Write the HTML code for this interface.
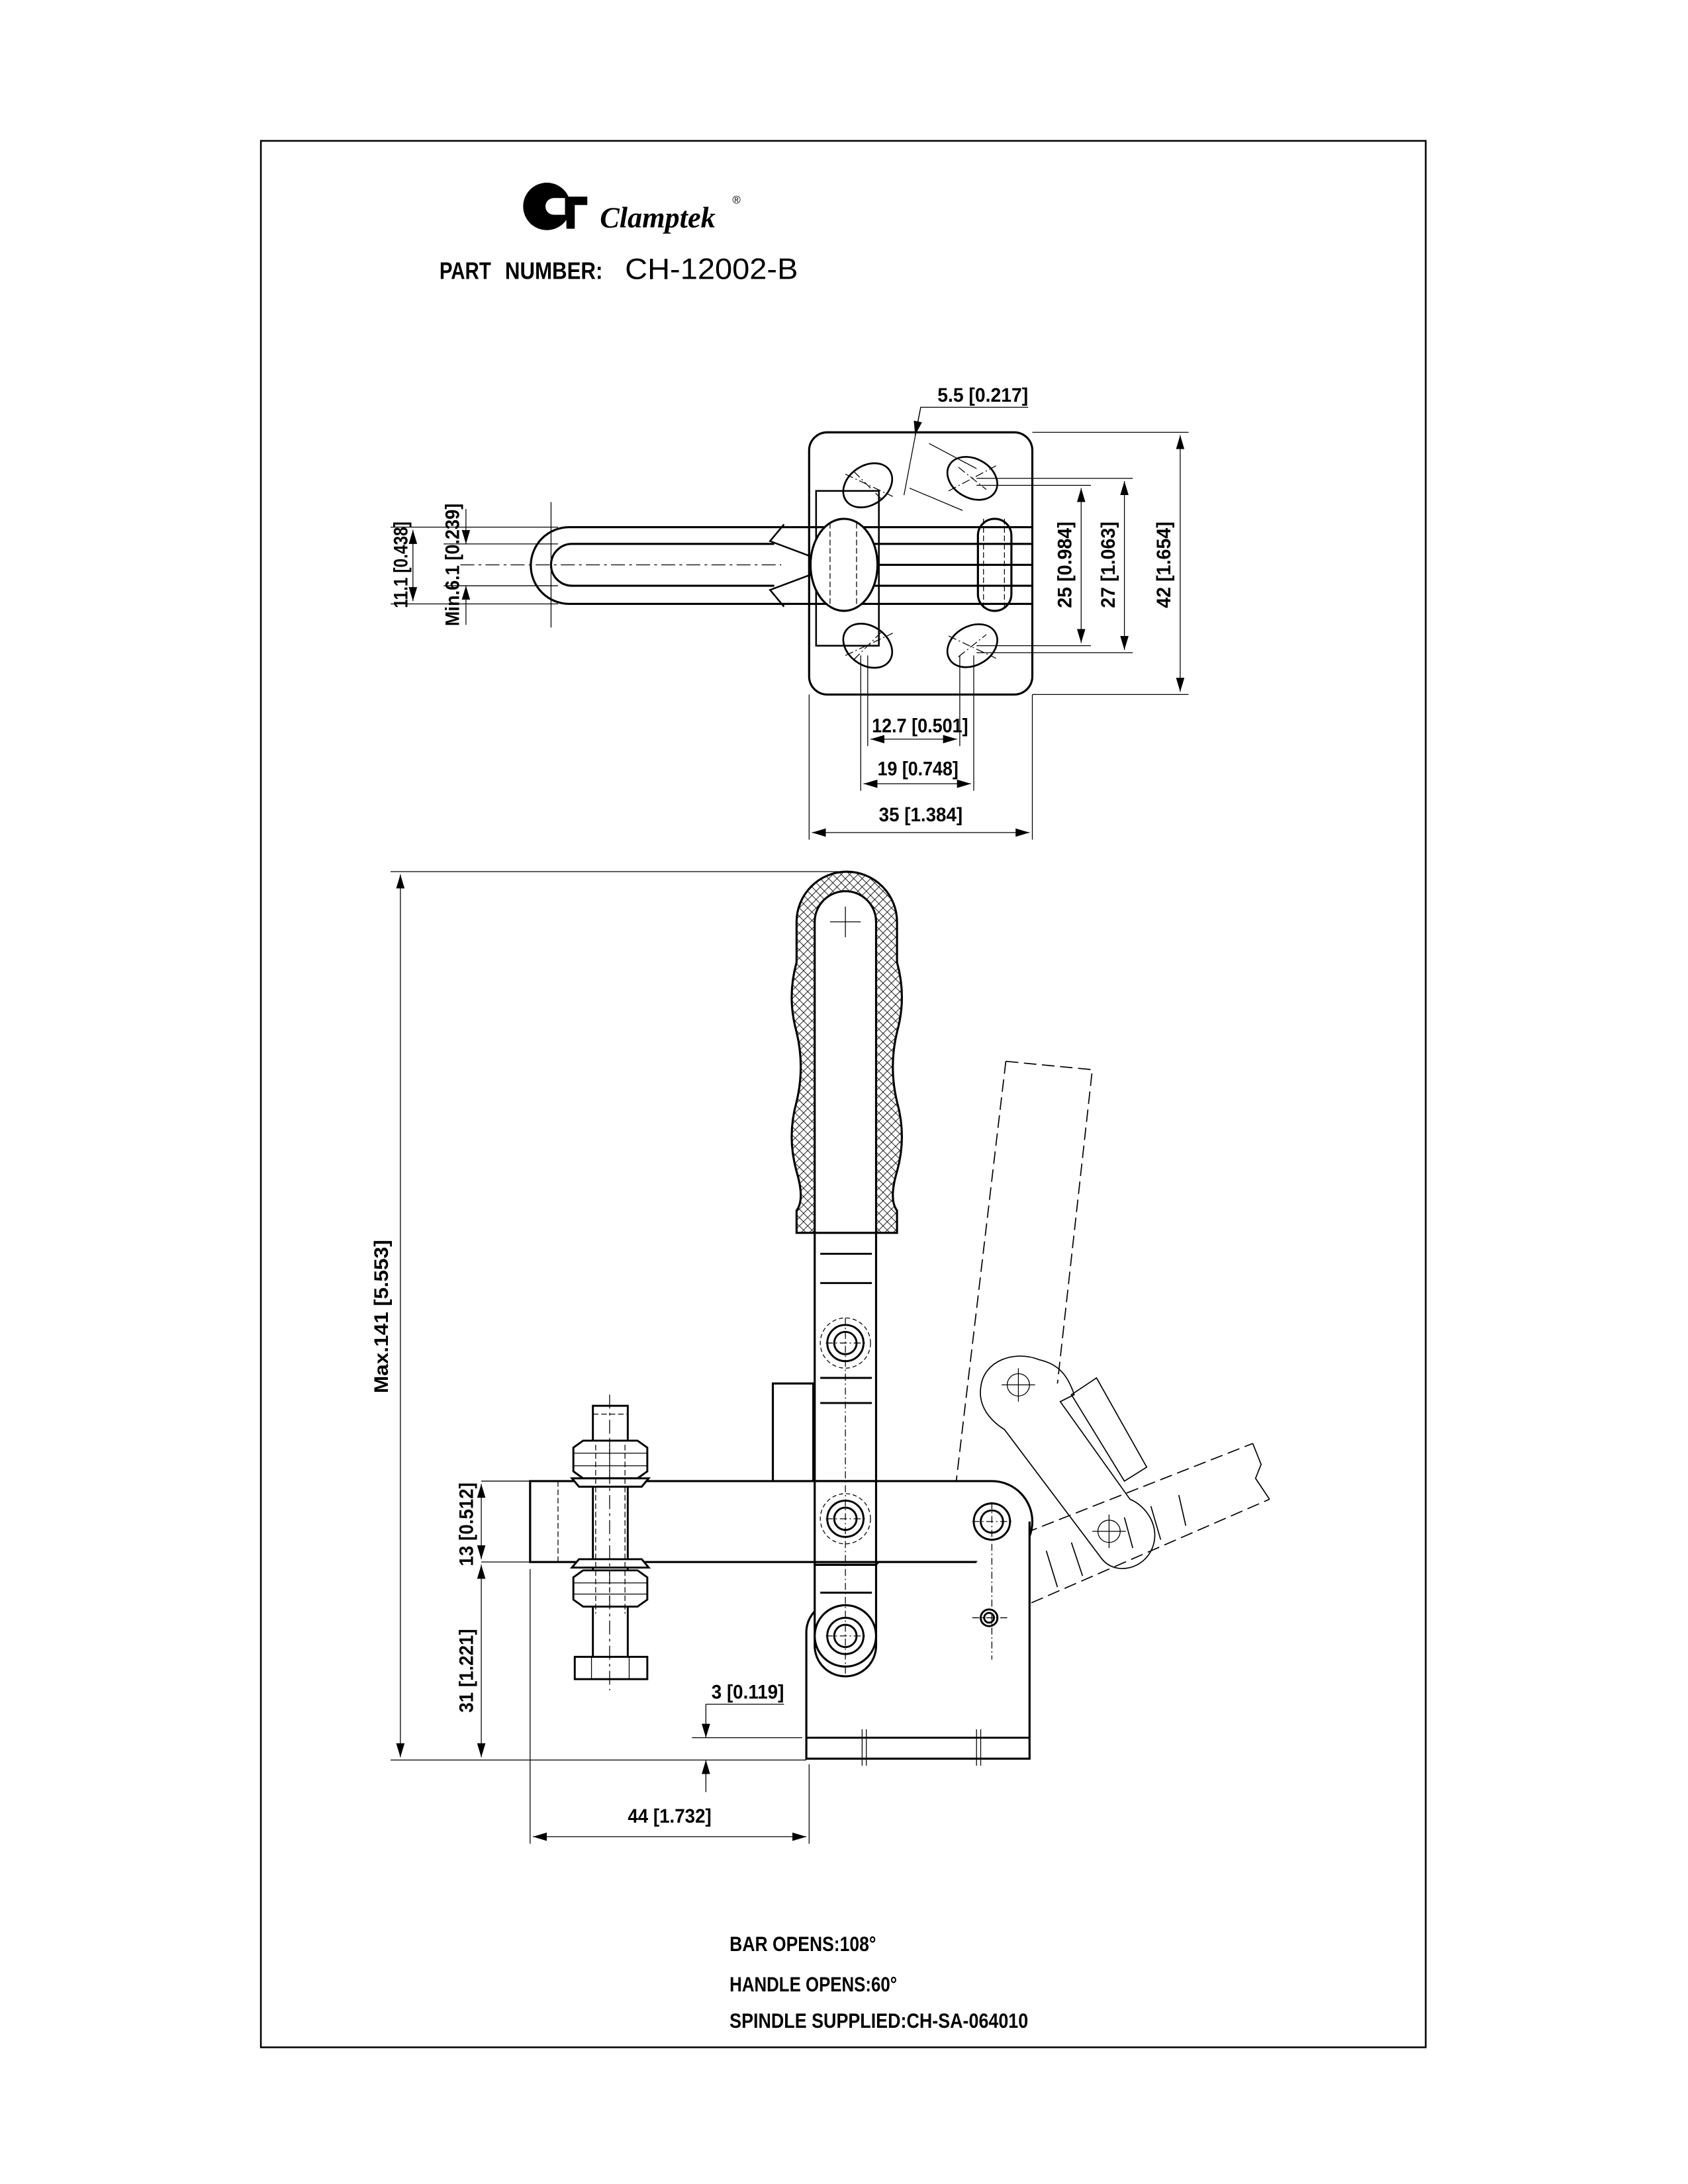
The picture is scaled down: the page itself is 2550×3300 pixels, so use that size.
<!DOCTYPE html>
<html><head><meta charset="utf-8"><style>
html,body{margin:0;padding:0;background:#fff}
svg{display:block}
text{font-family:"Liberation Sans Narrow","Liberation Sans",sans-serif;fill:#000}
</style></head><body>
<svg width="2550" height="3300" viewBox="0 0 1210 1566" preserveAspectRatio="none" xmlns="http://www.w3.org/2000/svg">
<defs>
<marker id="a" viewBox="0 0 10 6" refX="10" refY="3" markerWidth="10" markerHeight="6" orient="auto-start-reverse" markerUnits="userSpaceOnUse"><path d="M0,0 L10,3 L0,6 z" fill="#000"/></marker>
<pattern id="h" width="6" height="6" patternUnits="userSpaceOnUse"><path d="M0,0 L6,6 M6,0 L0,6" stroke="#000" stroke-width="0.4"/></pattern>
</defs>
<rect width="1210" height="1566" fill="#fff"/>
<rect x="187" y="101" width="835" height="1367" fill="none" stroke="#000" stroke-width="1.2"/>

<!-- logo -->
<g>
<circle cx="392" cy="148" r="17" fill="#000"/>
<rect x="396" y="141" width="25" height="6" fill="#000"/>
<rect x="406" y="145" width="6" height="19" fill="#000"/>
<circle cx="397" cy="148" r="6" fill="#fff"/>
<rect x="397" y="142" width="8" height="12" fill="#fff"/>
<text x="430" y="163" font-style="italic" font-weight="bold" font-size="21" style="font-family:'Liberation Serif',serif">Clamptek</text>
<text x="525" y="146" font-size="8">®</text>
</g>
<text x="315" y="200" font-size="17" font-weight="bold" textLength="37" lengthAdjust="spacingAndGlyphs">PART</text>
<text x="362" y="200" font-size="17" font-weight="bold" textLength="70" lengthAdjust="spacingAndGlyphs">NUMBER:</text>
<text x="448" y="200" font-size="21" style="font-family:'Liberation Sans',sans-serif" textLength="124" lengthAdjust="spacingAndGlyphs">CH-12002-B</text>

<!-- TOP VIEW -->
<g fill="none" stroke="#000" stroke-width="1.5">
<rect x="580" y="310" width="160" height="188" rx="13"/>
<rect x="585" y="352" width="45" height="111" stroke-width="1.2"/>
<path d="M740,378 L408,378 A27.5,27.5 0 0 0 408,433 L740,433"/>
<path d="M555,390 L410,390 A15,15 0 0 0 410,420 L555,420"/>
<path d="M627,390 L740,390 M627,420 L740,420 M627,405 L740,405"/>
<path d="M562,376 L552,388 L584,400 M562,435 L552,423 L584,411" stroke-width="1.2"/>
<ellipse cx="605" cy="405" rx="24" ry="33" fill="#fff"/>
<rect x="701" y="372" width="24" height="66" rx="12"/>
<g stroke-width="1.3">
<ellipse cx="622" cy="348" rx="19" ry="14" transform="rotate(-35 622 348)"/>
<ellipse cx="697" cy="343" rx="19" ry="14" transform="rotate(30 697 343)"/>
<ellipse cx="622" cy="463" rx="19" ry="14" transform="rotate(35 622 463)"/>
<ellipse cx="697" cy="463" rx="19" ry="14" transform="rotate(-30 697 463)"/>
</g>
</g>
<g fill="none" stroke="#000" stroke-width="0.6">
<path d="M330,405 L560,405" stroke-dasharray="10,3,2,3"/>
<path d="M595,375 L595,435 M614,375 L614,435 M705,372 L705,438 M720,372 L720,438" stroke-dasharray="4,2"/>
<path d="M612,338 L632,358 M687,335 L707,351 M612,473 L632,453 M687,471 L707,455 M606,340 L640,356 M680,352 L714,334 M606,470 L640,454 M680,456 L714,472" stroke-dasharray="6,2,1,2"/>
<path d="M737,292 L660,292 L648,355"/>
<path d="M660,292 L656,312" marker-end="url(#a)"/>
<path d="M666,318 L700,336 M652,350 L690,366"/>
<path d="M700,348 L782,348 M700,463 L782,463 M700,343 L812,343 M700,468 L812,468 M740,310 L852,310 M740,498 L852,498"/>
<path d="M775,350 L775,461" marker-start="url(#a)" marker-end="url(#a)"/>
<path d="M806,345 L806,466" marker-start="url(#a)" marker-end="url(#a)"/>
<path d="M846,312 L846,496" marker-start="url(#a)" marker-end="url(#a)"/>
<path d="M280,378 L400,378 M280,433 L400,433 M318,390 L400,390 M318,420 L400,420 M395,360 L395,450"/>
<path d="M296,380 L296,431" marker-start="url(#a)" marker-end="url(#a)"/>
<path d="M334,365 L334,390" marker-end="url(#a)"/>
<path d="M334,448 L334,420" marker-end="url(#a)"/>
<path d="M622,470 L622,535 M688,470 L688,535 M617,470 L617,567 M698,470 L698,567 M580,498 L580,602 M740,498 L740,602"/>
<path d="M624,530 L686,530" marker-start="url(#a)" marker-end="url(#a)"/>
<path d="M619,562 L696,562" marker-start="url(#a)" marker-end="url(#a)"/>
<path d="M582,597 L738,597" marker-start="url(#a)" marker-end="url(#a)"/>
</g>
<g font-size="14" font-weight="bold">
<text x="672" y="288" textLength="65" lengthAdjust="spacingAndGlyphs">5.5 [0.217]</text>
<text x="625" y="525" textLength="69" lengthAdjust="spacingAndGlyphs">12.7 [0.501]</text>
<text x="629" y="556" textLength="58" lengthAdjust="spacingAndGlyphs">19 [0.748]</text>
<text x="630" y="589" textLength="60" lengthAdjust="spacingAndGlyphs">35 [1.384]</text>
<text transform="translate(768,405) rotate(-90)" text-anchor="middle" textLength="62" lengthAdjust="spacingAndGlyphs">25 [0.984]</text>
<text transform="translate(799,405) rotate(-90)" text-anchor="middle" textLength="62" lengthAdjust="spacingAndGlyphs">27 [1.063]</text>
<text transform="translate(839,405) rotate(-90)" text-anchor="middle" textLength="62" lengthAdjust="spacingAndGlyphs">42 [1.654]</text>
<text transform="translate(292,405) rotate(-90)" text-anchor="middle" textLength="62" lengthAdjust="spacingAndGlyphs">11.1 [0.438]</text>
<text transform="translate(329,405) rotate(-90)" text-anchor="middle" textLength="88" lengthAdjust="spacingAndGlyphs">Min.6.1 [0.239]</text>
</g>

<!-- SIDE VIEW -->
<g fill="none" stroke="#000" stroke-width="0.8" stroke-dasharray="9,4">
<path d="M721,761 L783,767 L758,992"/>
<path d="M721,761 L683,1083"/>
<path d="M626,1142 L898,1035 M632,1196 L910,1075"/>
<path d="M590,1195 L700,1070 M615,1120 L700,1070"/>
</g>
<g fill="none" stroke="#000" stroke-width="0.8">
<path d="M898,1035 L904,1050 L900,1060 L910,1075"/>
<path d="M745,975 C728,968 705,975 703,995 C701,1010 712,1020 720,1025 L790,1118 C800,1130 820,1125 826,1110 C832,1095 822,1080 810,1075 L760,1005 L770,1000 C765,985 758,978 745,975 Z"/>
<path d="M768,1000 L786,988 L822,1052 L806,1062 Z"/>
<path d="M650,1160 L660,1190 M668,1152 L680,1184 M696,1145 L703,1172 M715,1139 L720,1165 M750,1112 L758,1138 M768,1106 L776,1130 M806,1088 L812,1110 M825,1080 L832,1104 M845,1072 L850,1094"/>
</g>
<g fill="none" stroke="#000" stroke-width="0.6">
<circle cx="730" cy="993" r="8"/><path d="M718,993 L742,993 M730,981 L730,1005"/>
<circle cx="795" cy="1098" r="8"/><path d="M783,1098 L807,1098 M795,1086 L795,1110"/>
</g>
<path d="M571,661 A36,36 0 0 1 643,661 L643,690 Q650,715 643,740 Q637,765 643,790 Q650,815 643,840 Q637,860 643,868 L643,884 L571,884 L571,868 Q577,860 571,840 Q564,815 571,790 Q577,765 571,740 Q564,715 571,690 Z" fill="url(#h)" stroke="#000" stroke-width="1.5"/>
<g fill="#fff" stroke="#000" stroke-width="1.5">
<path d="M584,884 L584,661 A22,22 0 0 1 628,661 L628,884"/>
<rect x="584" y="884" width="44" height="200"/>
<path d="M380,1062 L711,1062 A29,29 0 0 1 711,1120 L380,1120 Z"/>
<path d="M738,1091 L738,1261 L578,1261 L578,1170 A22,22 0 0 1 592,1150 L630,1120 L700,1120"/>
<rect x="554" y="992" width="29" height="70"/>
<rect x="584" y="1062" width="44" height="60" fill="none"/>
<path d="M584,1122 L628,1122 L628,1180 A22,22 0 0 1 584,1180 Z"/>
<circle cx="606" cy="1173" r="22"/>
</g>
<g fill="none" stroke="#000" stroke-width="1.4">
<path d="M578,1246 L738,1246"/>
<path d="M588,899 L625,899 M588,920 L625,920 M588,988 L625,988 M588,1006 L625,1006 M588,1122 L625,1122 M588,1142 L625,1142"/>
<circle cx="606" cy="963" r="13"/><circle cx="606" cy="963" r="8"/>
<circle cx="606" cy="1089" r="13"/><circle cx="606" cy="1089" r="8"/>
<circle cx="606" cy="1173" r="13"/><circle cx="606" cy="1173" r="8"/>
<circle cx="711" cy="1091" r="13"/><circle cx="711" cy="1091" r="8"/>
<circle cx="709" cy="1160" r="6"/><circle cx="709" cy="1160" r="3.5"/>
<rect x="425" y="1008" width="25" height="180" fill="#fff"/>
<path d="M411,1038 L418,1033 L457,1033 L464,1038 L464,1055 L457,1060 L418,1060 L411,1055 Z" fill="#fff"/>
<path d="M410,1060 L465,1060 L460,1066 L415,1066 Z" fill="#fff"/>
<path d="M415,1118 L460,1118 L465,1124 L410,1124 Z" fill="#fff"/>
<path d="M411,1131 L418,1126 L457,1126 L464,1131 L464,1147 L457,1152 L418,1152 L411,1147 Z" fill="#fff"/>
<rect x="412" y="1188" width="52" height="16" fill="#fff"/>
</g>
<g fill="none" stroke="#000" stroke-width="0.6">
<path d="M606,650 L606,672 M595,661 L617,661"/>
<path d="M427,1036 L427,1157 M448,1036 L448,1157 M425,1014 L450,1014 M437,1033 L437,1060 M437,1126 L437,1152" stroke-dasharray="4,2"/>
<path d="M437,1000 L437,1212" stroke-dasharray="10,3,2,3"/>
<path d="M424,1188 L424,1204 M451,1188 L451,1204 M411,1042 L464,1042 M411,1051 L464,1051 M411,1135 L464,1135 M411,1143 L464,1143"/>
<path d="M400,1062 L400,1120" stroke-dasharray="4,2"/>
<circle cx="606" cy="963" r="18" stroke-dasharray="3,2"/>
<circle cx="606" cy="1089" r="18" stroke-dasharray="3,2"/>
<path d="M606,945 L606,1200 M592,963 L620,963 M592,1089 L620,1089 M592,1173 L620,1173 M697,1091 L725,1091 M711,1077 L711,1190 M697,1160 L722,1160" stroke-dasharray="5,2,1,2"/>
<path d="M618,1240 L618,1266 M621,1240 L621,1266 M700,1240 L700,1266 M703,1240 L703,1266"/>
<path d="M280,625 L606,625 M280,1262 L578,1262 M345,1062 L380,1062 M345,1120 L380,1120 M380,1125 L380,1322 M580,1265 L580,1322 M496,1246 L575,1246"/>
<path d="M287,627 L287,1260" marker-start="url(#a)" marker-end="url(#a)"/>
<path d="M345,1064 L345,1118" marker-start="url(#a)" marker-end="url(#a)"/>
<path d="M345,1122 L345,1260" marker-start="url(#a)" marker-end="url(#a)"/>
<path d="M382,1317 L578,1317" marker-start="url(#a)" marker-end="url(#a)"/>
<path d="M562,1222 L506,1222 L506,1246" marker-end="url(#a)"/>
<path d="M506,1285 L506,1262" marker-end="url(#a)"/>
</g>
<g font-size="14" font-weight="bold">
<text transform="translate(278,944) rotate(-90)" text-anchor="middle" textLength="110" lengthAdjust="spacingAndGlyphs">Max.141 [5.553]</text>
<text transform="translate(339,1093) rotate(-90)" text-anchor="middle" textLength="60" lengthAdjust="spacingAndGlyphs">13 [0.512]</text>
<text transform="translate(339,1198) rotate(-90)" text-anchor="middle" textLength="60" lengthAdjust="spacingAndGlyphs">31 [1.221]</text>
<text x="510" y="1218" textLength="52" lengthAdjust="spacingAndGlyphs">3 [0.119]</text>
<text x="450" y="1307" textLength="60" lengthAdjust="spacingAndGlyphs">44 [1.732]</text>
</g>
<g font-size="15" font-weight="bold">
<text x="523" y="1399" textLength="105" lengthAdjust="spacingAndGlyphs">BAR OPENS:108°</text>
<text x="523" y="1428" textLength="120" lengthAdjust="spacingAndGlyphs">HANDLE OPENS:60°</text>
<text x="523" y="1454" textLength="214" lengthAdjust="spacingAndGlyphs">SPINDLE SUPPLIED:CH-SA-064010</text>
</g>
</svg>
</body></html>
